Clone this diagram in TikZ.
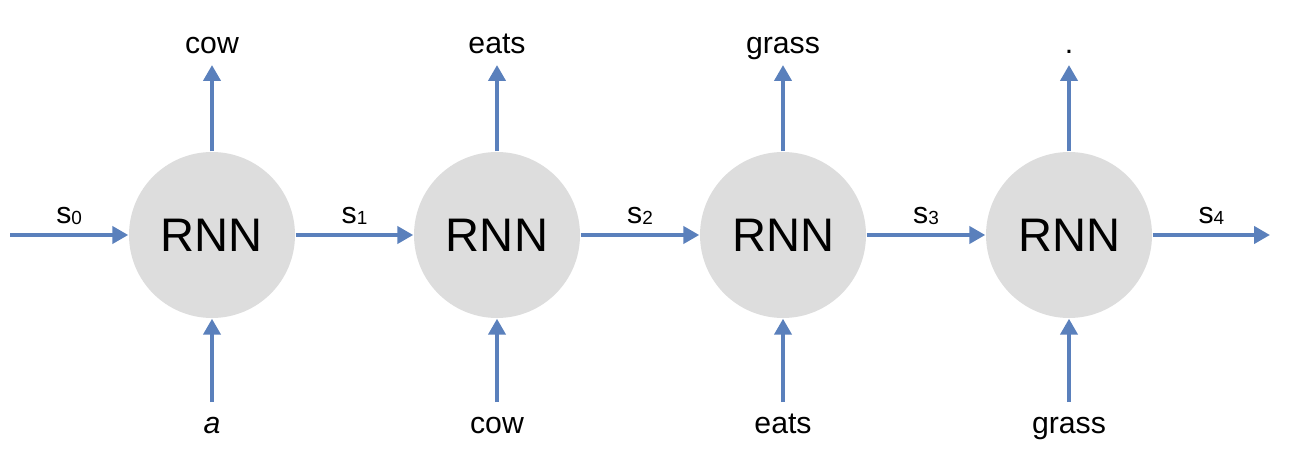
\documentclass[tikz,border=0pt]{standalone}
\usepackage{fontspec}
\setmainfont{Liberation Sans}
\usetikzlibrary{arrows.meta}
\definecolor{rnnBlue}{RGB}{90, 128, 188}
\definecolor{rnnGray}{RGB}{221, 221, 221}
\newcommand{\stateof}[1]{s\raisebox{-0.4pt}{\fontsize{5.4}{6}\selectfont #1}}

\begin{document}
\begin{tikzpicture} [
    cell/.style  = { circle, fill=rnnGray, minimum size=1.66cm,
                     inner sep=0pt, font=\fontsize{13.4}{16}\selectfont},
    word/.style  = { inner xsep=0pt, inner ysep=0.11cm, text height=0.2cm,
                     text depth=0pt, font=\fontsize{8.6}{10}\selectfont},
    state/.style = { anchor=base, yshift=0.12cm, inner sep=0pt,
                     font=\fontsize{8.6}{10}\selectfont},
    line/.style  = { draw, line width=1.2pt,
                     -{Triangle[length=0.16cm, width=0.17cm]}},
  ]
  \useasboundingbox (0,0) rectangle (13,4.56);

%Zellen
  \node [cell] (rnn1) at (2.12,2.21) {RNN};
  \node [cell] (rnn2) at (4.97,2.21) {RNN};
  \node [cell] (rnn3) at (7.83,2.21) {RNN};
  \node [cell] (rnn4) at (10.69,2.21) {RNN};

%Ausgaben (oben)
  \node [word, anchor=south] (out1) at (2.12,3.91) {cow};
  \node [word, anchor=south] (out2) at (4.97,3.91) {eats};
  \node [word, anchor=south] (out3) at (7.83,3.91) {grass};
  \node [word, anchor=south] (out4) at (10.69,3.91) {.};

%Eingaben (unten)
  \node [word, anchor=north] (in1) at (2.12,0.54) {\itshape a};
  \node [word, anchor=north] (in2) at (4.97,0.54) {cow};
  \node [word, anchor=north] (in3) at (7.83,0.54) {eats};
  \node [word, anchor=north] (in4) at (10.69,0.54) {grass};

  \coordinate (start) at (0.10,2.21);
  \coordinate (end) at (12.70,2.21);

%Zustaende (waagerecht)
  \begin{scope} [every path/.style={line, draw=rnnBlue}]
   \path (start) -- node [state] {\stateof{0}} (rnn1);
   \path (rnn1) -- node [state] {\stateof{1}} (rnn2);
   \path (rnn2) -- node [state] {\stateof{2}} (rnn3);
   \path (rnn3) -- node [state] {\stateof{3}} (rnn4);
   \path (rnn4) -- node [state] {\stateof{4}} (end);
  \end{scope}

%Pfeile senkrecht
  \begin{scope} [every path/.style={line, draw=rnnBlue}]
   \path (in1) -- (rnn1);
   \path (in2) -- (rnn2);
   \path (in3) -- (rnn3);
   \path (in4) -- (rnn4);
   \path (rnn1) -- (out1);
   \path (rnn2) -- (out2);
   \path (rnn3) -- (out3);
   \path (rnn4) -- (out4);
  \end{scope}
\end{tikzpicture}
\end{document}
